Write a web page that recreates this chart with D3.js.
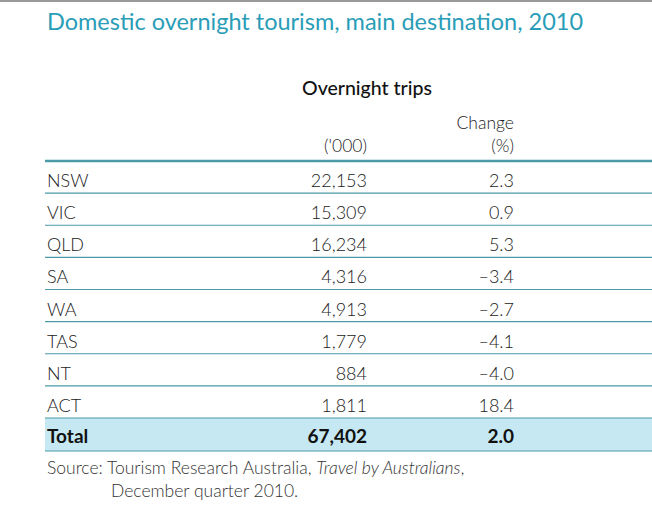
<!DOCTYPE html>
<html><head><meta charset="utf-8">
<script src="https://cdn.jsdelivr.net/npm/d3@7"></script>
<style>body{margin:0;background:#fff}</style>
</head><body>
<svg id="chart" width="652" height="529"></svg>
<script>
const states = ['NSW', 'VIC', 'QLD', 'SA', 'WA', 'TAS', 'NT', 'ACT']
const trips = [22153, 15309, 16234, 4316, 4913, 1779, 884, 1811]
const change = [2.3, 0.9, 5.3, -3.4, -2.7, -4.1, -4.0, 18.4]
const totalTrips = 67402
const totalChange = 2.0

const svg = d3.select('#chart')
const font = 'Lato, "Open Sans", sans-serif'
const teal = '#4a9aa8'
const left = 45

svg.append('rect').attr('width', 652).attr('height', 2).attr('fill', '#999')

svg.append('text').attr('x', 47).attr('y', 30)
  .attr('font-family', font).attr('font-size', 23.5).attr('fill', '#2a9db8')
  .text('Domestic overnight tourism, main destination, 2010')

const y = d3.scaleBand().domain(states).range([161, 418])
const fmt = d3.format(',')
const fmtC = v => (v < 0 ? '\u2013' + Math.abs(v).toFixed(1) : v.toFixed(1))
const xTrips = 367, xChange = 514

svg.append('text').attr('x', 367).attr('y', 95).attr('text-anchor', 'middle')
  .attr('font-family', font).attr('font-size', 19.5).attr('font-weight', 500).attr('fill', '#111')
  .text('Overnight trips')
svg.append('text').attr('x', xChange).attr('y', 129).attr('text-anchor', 'end')
  .attr('font-family', font).attr('font-size', 17.5).attr('font-weight', 300).attr('fill', '#222').text('Change')
svg.append('text').attr('x', xChange).attr('y', 152).attr('text-anchor', 'end')
  .attr('font-family', font).attr('font-size', 17.5).attr('font-weight', 300).attr('fill', '#222').text('(%)')
svg.append('text').attr('x', xTrips).attr('y', 152).attr('text-anchor', 'end')
  .attr('font-family', font).attr('font-size', 17.5).attr('font-weight', 300).attr('fill', '#222').text("('000)")

// total row background
svg.append('rect').attr('x', left).attr('y', y.range()[1]).attr('width', 652 - left).attr('height', 33)
  .attr('fill', '#c5e8f3')

const rows = svg.append('g').selectAll('g').data(states).join('g')
  .attr('transform', d => `translate(0,${y(d)})`)
  .attr('font-family', font).attr('font-size', 18).attr('font-weight', 300).attr('fill', '#222')
rows.append('text').attr('x', 47).attr('y', 26).text(d => d)
rows.append('text').attr('x', xTrips).attr('y', 26).attr('text-anchor', 'end').text((d, i) => fmt(trips[i]))
rows.append('text').attr('x', xChange).attr('y', 26).attr('text-anchor', 'end').text((d, i) => fmtC(change[i]))

const ty = y.range()[1] + 25
const tot = svg.append('g').attr('font-family', font).attr('font-size', 19).attr('font-weight', 700).attr('fill', '#111')
tot.append('text').attr('x', 47).attr('y', ty).text('Total')
tot.append('text').attr('x', xTrips).attr('y', ty).attr('text-anchor', 'end').text(fmt(totalTrips))
tot.append('text').attr('x', xChange).attr('y', ty).attr('text-anchor', 'end').text(totalChange.toFixed(1))

// rules
const lineYs = states.map(d => y(d)).concat([y.range()[1], y.range()[1] + 33])
svg.append('g').selectAll('line').data(lineYs).join('line')
  .attr('x1', left).attr('x2', 652).attr('y1', d => d).attr('y2', d => d)
  .attr('stroke', teal).attr('stroke-width', (d, i) => i === 0 ? 2.5 : 1.2)

const src = svg.append('g').attr('font-family', font).attr('font-size', 17.5).attr('font-weight', 300).attr('fill', '#333')
const t1 = src.append('text').attr('x', 47).attr('y', 474)
t1.append('tspan').text('Source: Tourism Research Australia, ')
t1.append('tspan').attr('font-style', 'italic').text('Travel by Australians')
t1.append('tspan').text(',')
src.append('text').attr('x', 111).attr('y', 497).text('December quarter 2010.')
</script>
</body></html>
